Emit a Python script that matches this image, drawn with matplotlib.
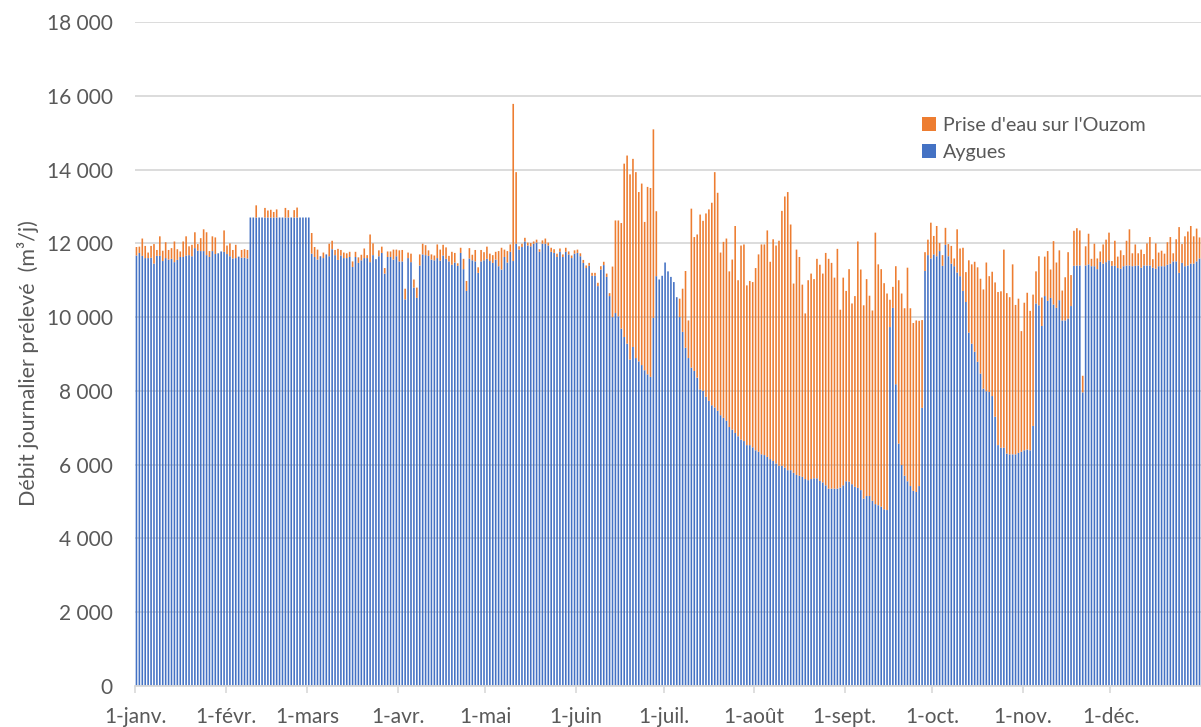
import matplotlib
matplotlib.use("Agg")
import matplotlib.pyplot as plt
import numpy as np
from matplotlib.patches import Patch

# ---- data (m3/j), one value per day of the year ----
aygues = [
    11670,11740,11660,11600,11600,11610,11450,11660,11660,11520,
    11600,11560,11580,11490,11550,11630,11630,11670,11680,11650,
    11870,11800,11790,11790,11680,11630,11790,11710,11730,11780,
    11770,11710,11650,11590,11600,11640,11610,11610,11590,12700,
    12700,12700,12700,12700,12700,12700,12700,12700,12700,12700,
    12700,12700,12700,12700,12700,12700,12700,12700,12700,12700,
    11720,11630,11560,11650,11600,11700,11650,11840,11680,11550,
    11670,11600,11600,11630,11360,11630,11470,11540,11600,11600,
    11490,11680,11570,11650,11740,11180,11630,11630,11560,11650,
    11510,11510,10480,11600,11490,10800,10520,11400,11700,11680,
    11660,11560,11540,11600,11530,11670,11580,11510,11420,11480,
    11390,11740,11300,10710,11590,11540,11510,11200,11510,11540,
    11580,11520,11470,11560,11380,11290,11630,11480,11770,11520,
    11990,11830,11900,12050,11940,11920,11990,12020,11770,11990,
    11990,11940,11770,11740,11630,11770,11630,11770,11700,11600,
    11720,11740,11650,11470,11330,11390,11120,11120,10840,11290,
    11410,11090,10570,10000,10110,10020,9690,9460,9280,8850,
    9190,8890,8800,8700,8560,8450,8380,9980,11110,11020,
    11120,11480,11240,11090,10950,10540,10000,9600,9170,8890,
    8630,8540,8360,8040,8000,7840,7730,7610,7550,7460,
    7340,7270,7190,7020,6950,6860,6770,6680,6640,6530,
    6530,6470,6390,6350,6280,6260,6210,6150,6100,6030,
    5970,5970,5920,5850,5850,5780,5720,5700,5670,5610,
    5580,5610,5630,5630,5560,5520,5440,5350,5350,5350,
    5350,5380,5440,5550,5540,5470,5400,5370,5310,5080,
    5150,5150,5020,4930,4900,4860,4790,4770,9730,10250,
    8180,6570,5990,5700,5550,5420,5290,5260,5420,7540,
    11250,11680,11590,11700,11650,11790,11390,11960,11650,11450,
    11380,11210,11110,10710,10410,9580,9280,9060,8790,8470,
    8060,7990,7970,7860,7300,6530,6460,6460,6300,6280,
    6280,6280,6320,6350,6390,6410,6390,7050,10370,10320,
    9760,10570,10440,10520,10340,10250,10460,9910,9910,9960,
    10300,11390,11400,11400,7960,11400,11430,11380,11380,11300,
    11500,11450,11490,11540,11390,11390,11330,11310,11380,11400,
    11400,11380,11390,11400,11340,11400,11400,11400,11340,11310,
    11380,11380,11380,11420,11450,11510,11510,11200,11470,11380,
    11400,11450,11450,11510,11590,
]

ouzom = [
    230,170,470,330,150,320,530,160,530,280,
    430,260,290,560,290,150,420,520,240,310,
    430,180,350,590,620,160,400,450,0,0,
    580,230,350,230,360,0,210,230,230,0,
    0,330,0,0,260,190,210,150,220,0,
    0,260,200,0,200,270,0,0,0,0,
    560,270,270,0,150,0,340,230,140,300,
    150,150,130,140,150,140,150,150,260,80,
    750,320,0,160,170,150,150,150,270,180,
    300,310,290,150,230,220,280,300,290,270,
    150,140,130,370,300,290,310,150,350,260,
    70,140,280,270,280,150,310,150,310,220,
    330,200,210,210,410,590,200,310,200,4260,
    1940,90,90,100,80,90,60,80,70,90,
    140,80,110,100,90,90,70,110,80,70,
    90,90,80,80,70,80,80,80,90,90,
    90,90,80,1370,2510,2600,2860,4700,5100,5020,
    5100,5040,4590,4920,4020,5080,5120,5110,1760,0,
    0,0,0,0,0,0,500,1170,2080,1020,
    4310,3630,3880,4740,4610,4970,5190,5490,6380,5910,
    4410,4770,4940,4220,4610,5610,4230,5260,5330,4330,
    4450,4480,4940,5350,5690,5710,6140,5350,6010,5910,
    6100,6910,7350,7540,6660,5130,6110,5930,5210,4490,
    5420,5570,5400,5950,5860,5660,6300,6230,6120,5720,
    6500,4820,5630,5160,5760,4900,5170,6680,5980,5240,
    5880,5430,5160,7360,6530,6440,6130,5870,740,570,
    3200,4430,4650,4540,5790,4820,4550,4650,4480,2380,
    510,420,970,500,820,220,290,460,330,480,
    210,1170,750,1170,810,1960,2150,2440,2560,2570,
    2690,3490,3140,3370,3640,4150,4240,5370,4350,4260,
    5150,4050,4180,3270,4000,4250,3780,3560,870,1330,
    770,1070,1350,770,1720,1230,1350,810,1170,1800,
    840,950,1010,950,450,520,830,200,610,290,
    280,520,610,750,130,680,310,500,300,670,
    980,350,580,330,490,310,600,770,230,690,
    370,420,340,610,720,220,600,1240,510,810,
    920,1020,740,890,570,
]

month_start_days = [0, 31, 59, 90, 120, 151, 181, 212, 243, 273, 304, 334]
month_labels = ["1-janv.", "1-févr.", "1-mars", "1-avr.", "1-mai", "1-juin",
                "1-juil.", "1-août", "1-sept.", "1-oct.", "1-nov.", "1-déc."]
y_ticks = [0, 2000, 4000, 6000, 8000, 10000, 12000, 14000, 16000, 18000]
series_names = ["Aygues", "Prise d'eau sur l'Ouzom"]

# ---- style ----
plt.rcParams['font.family'] = ['Lato', 'DejaVu Sans']
BLUE = "#4472C4"
ORANGE = "#ED7D31"
TXT = "#595959"
GRID = "#D9D9D9"

fig = plt.figure(figsize=(12.01, 7.27), dpi=100)
ax = fig.add_axes([135/1201, 1 - 686/727, 1 - 135/1201, (686 - 22)/727])

n = len(aygues)
x = np.arange(n) + 0.5
a = np.array(aygues, dtype=float)
o = np.array(ouzom, dtype=float)

ax.bar(x, a, width=0.55, color=BLUE, linewidth=0, zorder=2, snap=False)
ax.bar(x, o, bottom=a, width=0.55, color=ORANGE, linewidth=0, zorder=2,
       snap=False)

ax.set_xlim(0, 365)
ax.set_ylim(0, 18000)
ax.set_yticks(y_ticks)
ax.set_yticklabels([f"{v:,}".replace(",", " ") for v in y_ticks])
ax.set_xticks(month_start_days)
ax.set_xticklabels(month_labels)

ax.yaxis.grid(True, color=GRID, linewidth=1.3, zorder=0)
ax.set_axisbelow(True)
for s in ["left", "right", "top"]:
    ax.spines[s].set_visible(False)
ax.spines["bottom"].set_color(GRID)
ax.spines["bottom"].set_linewidth(1.3)

ax.tick_params(axis='y', length=0, pad=16, labelsize=15, labelcolor=TXT)
ax.tick_params(axis='x', length=5, width=1.2, color=GRID, pad=10,
               labelsize=15, labelcolor=TXT)

fig.text(28/1201, 0.5, "Débit journalier prélevé  (m³/j)", rotation=90,
         va='center', ha='center', fontsize=15.5, color=TXT)

handles = [Patch(facecolor=ORANGE, edgecolor='none'),
           Patch(facecolor=BLUE, edgecolor='none')]
leg = fig.legend(handles, [series_names[1], series_names[0]],
                 loc='upper left', bbox_to_anchor=(922/1201, 1 - 117/727),
                 frameon=False, fontsize=14.2, handlelength=0.7,
                 handleheight=0.7, handletextpad=0.35, labelspacing=0.5,
                 borderaxespad=0, borderpad=0)
for t in leg.get_texts():
    t.set_color(TXT)

fig.savefig("out.png", dpi=100)
